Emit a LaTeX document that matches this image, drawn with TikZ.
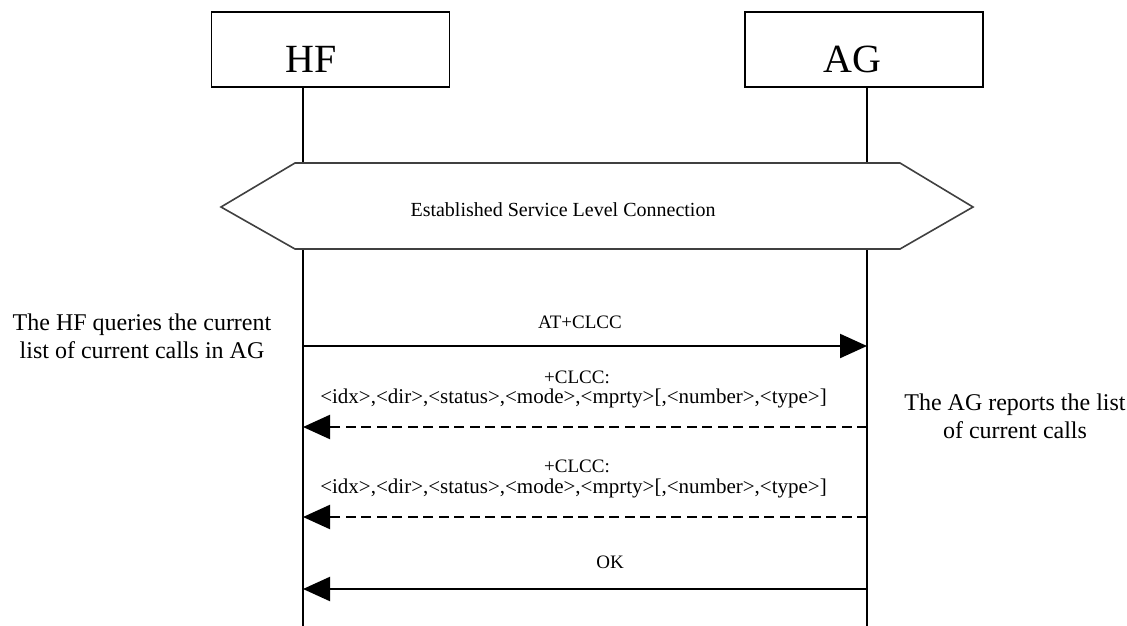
\documentclass[tikz,border=0pt]{standalone}
\usepackage{fontspec}
\setmainfont{Liberation Serif}
\usetikzlibrary{arrows.meta}
\begin{document}
\begin{tikzpicture}[x=1pt,y=-1pt,
  entity/.style={draw, line width=1.5pt, minimum width=238pt, minimum height=75pt, inner sep=0pt},
  etext/.style={font=\fontsize{40}{40}\selectfont, inner sep=0pt},
  life/.style={line width=1.4pt},
  hexa/.style={draw=black!75, line width=1.6pt, line join=miter},
  msg/.style={line width=2.2pt, -{Triangle[length=27pt,width=24pt]}},
  reply/.style={msg, dash pattern=on 10pt off 5.5pt},
  lbl/.style={font=\fontsize{19}{22}\selectfont, inner sep=0pt},
  plbl/.style={font=\fontsize{21}{22}\selectfont, inner sep=0pt},
  hextext/.style={font=\fontsize{20}{22}\selectfont, inner sep=0pt},
  note/.style={font=\fontsize{24}{28}\selectfont, align=center, inner sep=0pt}]
\useasboundingbox (0,0) rectangle (1127,626);
% entities
\node[entity] (hf) at (330.5,49.5) {};
\node[etext] (hft) at (311,59) {HF};
\node[entity] (ag) at (864,49.5) {};
\node[etext] (agt) at (852,59) {AG};
% lifeline coordinates
\coordinate (hf0) at (303,87);
\coordinate (hf1) at (303,163);
\coordinate (hf2) at (303,249);
\coordinate (hf3) at (303,626);
\coordinate (ag0) at (867,87);
\coordinate (ag1) at (867,163);
\coordinate (ag2) at (867,249);
\coordinate (ag3) at (867,626);
\draw[life] (hf0) -- (hf1);
\draw[life] (hf2) -- (hf3);
\draw[life] (ag0) -- (ag1);
\draw[life] (ag2) -- (ag3);
% hexagon
\coordinate (hxL) at (221,207);
\coordinate (hxTL) at (295,163);
\coordinate (hxTR) at (900,163);
\coordinate (hxR) at (973,207);
\coordinate (hxBR) at (900,249);
\coordinate (hxBL) at (295,249);
\draw[hexa] (hxL) -- (hxTL) -- (hxTR) -- (hxR) -- (hxBR) -- (hxBL) -- cycle;
\node[hextext] (slc) at (563,210) {Established Service Level Connection};
% notes
\node[note] (n1) at (142,336) {The HF queries the current\\list of current calls in AG};
\node[note] (n2) at (1015,416) {The AG reports the list\\of current calls};
% messages
\coordinate (m1h) at (303,346);
\coordinate (m1a) at (867,346);
\node[lbl] (l1) at (580,322) {AT+CLCC};
\draw[msg] (m1h) -- (m1a);
\coordinate (m2h) at (303,427);
\coordinate (m2a) at (867,427);
\node[lbl] (l2a) at (577,377) {+CLCC:};
\node[plbl] (l2b) at (573.5,398) {<idx>,<dir>,<status>,<mode>,<mprty>[,<number>,<type>]};
\draw[reply] (m2a) -- (m2h);
\coordinate (m3h) at (303,517);
\coordinate (m3a) at (867,517);
\node[lbl] (l3a) at (577,466) {+CLCC:};
\node[plbl] (l3b) at (573.5,488) {<idx>,<dir>,<status>,<mode>,<mprty>[,<number>,<type>]};
\draw[reply] (m3a) -- (m3h);
\coordinate (m4h) at (303,589);
\coordinate (m4a) at (867,589);
\node[lbl] (l4) at (610,562) {OK};
\draw[msg] (m4a) -- (m4h);
\end{tikzpicture}
\end{document}
